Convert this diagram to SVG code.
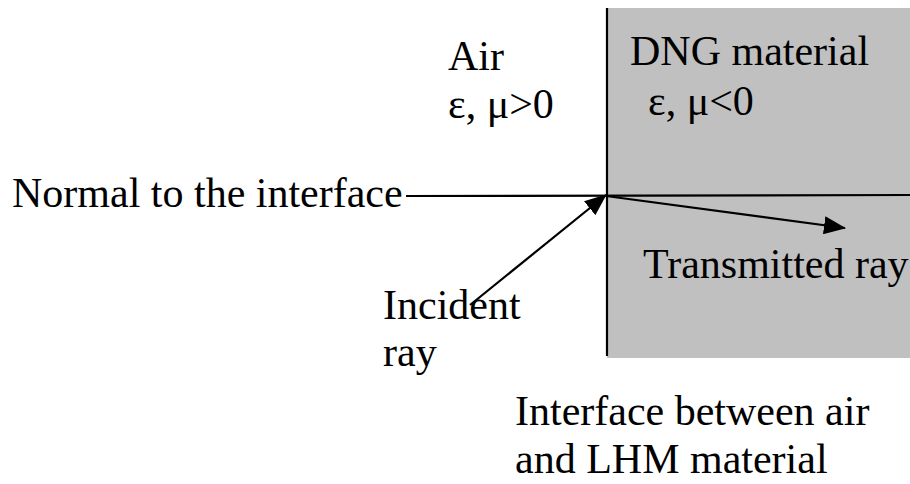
<svg xmlns="http://www.w3.org/2000/svg" width="910" height="484" viewBox="0 0 910 484">
<style>
text{font-family:"Liberation Serif","Times New Roman",serif;font-size:42px;fill:#000}
.ln{stroke:#000;stroke-width:2.2;fill:none}
</style>
<defs>
<marker id="ah" viewBox="0 0 22 18" refX="21" refY="9" markerWidth="22" markerHeight="18" markerUnits="userSpaceOnUse" orient="auto">
<path d="M0,0 L22,9 L0,18 z" fill="#000"/>
</marker>
</defs>
<rect width="910" height="484" fill="#fff"/>
<g id="dng">
<rect x="607" y="8" width="303" height="350" fill="#c0c0c0"/>
<line x1="607" y1="8" x2="607" y2="356" class="ln"/>
<text x="630" y="65">DNG material</text>
<text x="648" y="115">ε, μ&lt;0</text>
</g>
<g id="air">
<text x="448" y="70">Air</text>
<text x="448" y="118">ε, μ&gt;0</text>
</g>
<g id="connectors">
<line x1="406" y1="196" x2="910" y2="195" class="ln"/>
<line x1="470" y1="305" x2="606" y2="195" class="ln" marker-end="url(#ah)"/>
<line x1="606" y1="196" x2="845" y2="228" class="ln" marker-end="url(#ah)"/>
</g>
<g id="labels">
<text x="12" y="207">Normal to the interface</text>
<text x="643" y="278">Transmitted ray</text>
<text x="383" y="319">Incident</text>
<text x="383" y="366">ray</text>
<text x="515" y="425">Interface between air</text>
<text x="515" y="473">and LHM material</text>
</g>
</svg>
